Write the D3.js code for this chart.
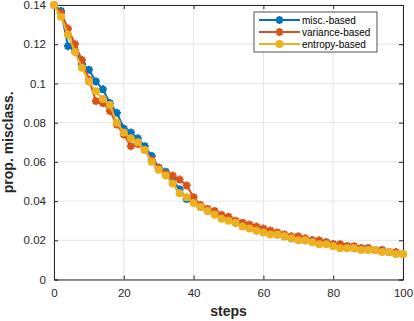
<!DOCTYPE html>
<html>
<head>
<meta charset="utf-8">
<script src="https://cdn.jsdelivr.net/npm/d3@7"></script>
<style>
  body { margin: 0; background: #fff; }
  svg { display: block; font-family: "Liberation Sans", Arial, sans-serif; }
</style>
</head>
<body>
<div id="chart"></div>
<script>
// data (steps 0,2,...,100)
const steps = d3.range(0, 101, 2);
const miscBased = [0.140, 0.137, 0.119, 0.117, 0.110, 0.107, 0.101, 0.097, 0.090, 0.085,
  0.077, 0.075, 0.072, 0.068, 0.063, 0.057, 0.055, 0.051, 0.046, 0.041,
  0.040, 0.037, 0.035, 0.034, 0.032, 0.031, 0.029, 0.028, 0.027, 0.025,
  0.025, 0.024, 0.023, 0.022, 0.021, 0.021, 0.020, 0.020, 0.019, 0.019,
  0.018, 0.017, 0.017, 0.016, 0.016, 0.016, 0.015, 0.015, 0.014, 0.013, 0.013];
const varianceBased = [0.140, 0.136, 0.128, 0.120, 0.112, 0.102, 0.091, 0.090, 0.086, 0.079,
  0.074, 0.068, 0.069, 0.066, 0.061, 0.057, 0.054, 0.053, 0.051, 0.048,
  0.042, 0.038, 0.036, 0.035, 0.033, 0.032, 0.030, 0.029, 0.028, 0.027,
  0.026, 0.025, 0.024, 0.023, 0.022, 0.022, 0.021, 0.020, 0.020, 0.019,
  0.018, 0.018, 0.017, 0.017, 0.016, 0.016, 0.015, 0.015, 0.014, 0.014, 0.013];
const entropyBased = [0.140, 0.134, 0.125, 0.116, 0.108, 0.101, 0.096, 0.092, 0.089, 0.080,
  0.075, 0.072, 0.070, 0.066, 0.060, 0.056, 0.053, 0.049, 0.044, 0.042,
  0.039, 0.037, 0.035, 0.033, 0.031, 0.030, 0.029, 0.027, 0.026, 0.025,
  0.024, 0.023, 0.023, 0.022, 0.021, 0.020, 0.020, 0.019, 0.018, 0.018,
  0.017, 0.016, 0.016, 0.016, 0.015, 0.015, 0.015, 0.014, 0.014, 0.013, 0.013];
const seriesNames = ["misc.-based", "variance-based", "entropy-based"];
const xTicks = [0, 20, 40, 60, 80, 100];
const yTicks = [0, 0.02, 0.04, 0.06, 0.08, 0.1, 0.12, 0.14];

const series = [
  { name: seriesNames[0], values: miscBased, color: "#0072BD", marker: "star" },
  { name: seriesNames[1], values: varianceBased, color: "#D95319", marker: "star" },
  { name: seriesNames[2], values: entropyBased, color: "#EDB120", marker: "circle" }
];

const width = 414, height = 321;
const margin = { top: 5, right: 11, bottom: 41.5, left: 54 };
const w = width - margin.left - margin.right;
const h = height - margin.top - margin.bottom;

const svg = d3.select("#chart").append("svg")
  .attr("width", width).attr("height", height);
const g = svg.append("g").attr("transform", `translate(${margin.left},${margin.top})`);

const x = d3.scaleLinear().domain([0, 100]).range([0, w]);
const y = d3.scaleLinear().domain([0, 0.14]).range([h, 0]);

// grid
g.append("g").selectAll("line").data(xTicks).enter().append("line")
  .attr("x1", d => x(d)).attr("x2", d => x(d)).attr("y1", 0).attr("y2", h)
  .attr("stroke", "#e5e5e5").attr("stroke-width", 1);
g.append("g").selectAll("line").data(yTicks).enter().append("line")
  .attr("y1", d => y(d)).attr("y2", d => y(d)).attr("x1", 0).attr("x2", w)
  .attr("stroke", "#e5e5e5").attr("stroke-width", 1);

// axes
g.append("g").attr("transform", `translate(0,${h})`)
  .call(d3.axisBottom(x).tickValues(xTicks).tickSize(-4).tickPadding(9).tickFormat(d3.format("d")));
g.append("g")
  .call(d3.axisLeft(y).tickValues(yTicks).tickSize(-4).tickPadding(8).tickFormat(d => d === 0 ? "0" : String(+d.toFixed(2))));
g.append("g")
  .call(d3.axisTop(x).tickValues(xTicks).tickSize(-4).tickFormat(""));
g.append("g").attr("transform", `translate(${w},0)`)
  .call(d3.axisRight(y).tickValues(yTicks).tickSize(-4).tickFormat(""));
g.selectAll(".domain").attr("stroke", "#262626");
g.selectAll(".tick line").attr("stroke", "#262626");
g.selectAll(".tick text").style("font-size", "11.5px").style("fill", "#262626")
  .style("font-family", "Liberation Sans, Arial, sans-serif");

// lines and markers
const line = d3.line().x((d, i) => x(steps[i])).y(d => y(d));
const starPath = r => {
  let p = "";
  for (let k = 0; k < 4; k++) {
    const a = k * Math.PI / 4;
    p += `M${-r * Math.cos(a)},${-r * Math.sin(a)}L${r * Math.cos(a)},${r * Math.sin(a)}`;
  }
  return p;
};
function drawMarker(sel, s) {
  if (s.marker === "circle") {
    sel.append("circle").attr("r", 4).attr("fill", s.color);
  } else {
    sel.append("path").attr("d", starPath(4)).attr("stroke", s.color)
      .attr("stroke-width", 2.2).attr("fill", "none");
  }
}

series.forEach(s => {
  const sg = g.append("g");
  sg.append("path").datum(s.values).attr("d", line)
    .attr("fill", "none").attr("stroke", s.color).attr("stroke-width", 2);
  sg.selectAll(".m").data(s.values).enter().append("g")
    .attr("transform", (d, i) => `translate(${x(steps[i])},${y(d)})`)
    .each(function () { drawMarker(d3.select(this), s); });
});

// axis titles
svg.append("text").attr("x", margin.left + w / 2).attr("y", 316)
  .attr("text-anchor", "middle").style("font-size", "14px").style("font-weight", "700")
  .style("fill", "#262626").text("steps");
svg.append("text").attr("transform", `translate(13,${margin.top + h / 2}) rotate(-90)`)
  .attr("text-anchor", "middle").style("font-size", "14px").style("font-weight", "700")
  .style("fill", "#262626").text("prop. misclass.");

// legend
const lg = svg.append("g").attr("transform", "translate(254,12)");
lg.append("rect").attr("width", 123).attr("height", 40)
  .attr("fill", "#fff").attr("stroke", "#262626").attr("stroke-width", 0.8);
series.forEach((s, i) => {
  const row = lg.append("g").attr("transform", `translate(0,${8 + i * 12})`);
  row.append("line").attr("x1", 5).attr("x2", 46).attr("stroke", s.color).attr("stroke-width", 2);
  drawMarker(row.append("g").attr("transform", "translate(25.5,0)"), s);
  row.append("text").attr("x", 48).attr("y", 3.5).style("font-size", "10px")
    .style("fill", "#000").text(s.name);
});
</script>
</body>
</html>
